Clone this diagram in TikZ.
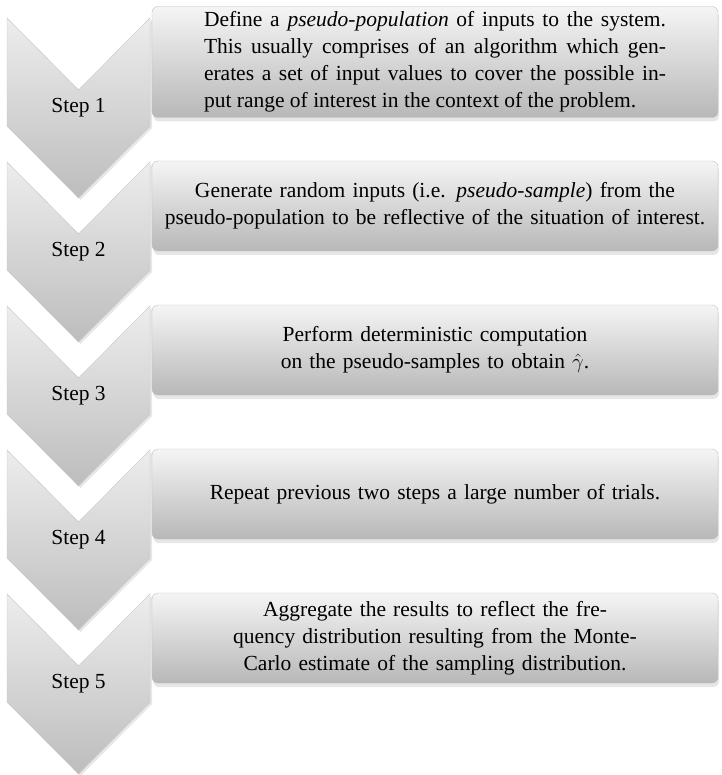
\documentclass[tikz,border=0pt]{standalone}
\usepackage{fontspec}
\setmainfont{Liberation Serif}
\usetikzlibrary{positioning,calc,shadows}
\pgfdeclarelayer{bg}
\pgfsetlayers{bg,main}

\tikzset{
  steplabel/.style={inner sep=0pt},
  stepbox/.style={draw=black!25, rounded corners=6pt, top color=black!4, bottom color=black!28,
    minimum width=566pt, minimum height=90pt, inner sep=2pt, text width=556pt, align=center,
    drop shadow={shadow xshift=1pt, shadow yshift=-4pt, opacity=0.2}},
  chevron/.style={draw=black!22, top color=black!7, bottom color=black!26,
    drop shadow={shadow xshift=2pt, shadow yshift=-2pt, opacity=0.2}}
}

\begin{document}
\begin{tikzpicture}[x=1pt, y=-1pt, node distance=144pt and 356.5pt, on grid,
    font=\fontsize{21.5}{27}\selectfont]

    \useasboundingbox (0,0) rectangle (721,775);

    \node[steplabel] at (78.5,108) (step1) {Step 1};
    \node[steplabel, below=of step1] (step2) {Step 2};
    \node[steplabel, below=of step2] (step3) {Step 3};
    \node[steplabel, below=of step3] (step4) {Step 4};
    \node[steplabel, below=of step4] (step5) {Step 5};

    \node[stepbox, right=of step1, yshift=46pt, minimum height=111pt, text width=462pt, align=justify] (box1)
      {Define a \textit{pseudo-population} of inputs to the system.\linebreak
       This usually comprises of an algorithm which gen-\linebreak
       erates a set of input values to cover the possible in-\linebreak
       put range of interest in the context of the problem.};
    \node[stepbox, right=of step2, yshift=46pt] (box2)
      {Generate random inputs (i.e. \textit{pseudo-sample}) from the\\
       pseudo-population to be reflective of the situation of interest.};
    \node[stepbox, right=of step3, yshift=46pt] (box3)
      {Perform deterministic computation\\
       on the pseudo-samples to obtain $\smash{\hat{\gamma}}$.};
    \node[stepbox, right=of step4, yshift=46pt] (box4)
      {Repeat previous two steps a large number of trials.};
    \node[stepbox, right=of step5, yshift=46pt] (box5)
      {Aggregate the results to reflect the fre-\\
       quency distribution resulting from the Monte-\\
       Carlo estimate of the sampling distribution.};

    \begin{pgfonlayer}{bg}
      \foreach \i in {1,...,5}
        \path[chevron] ($(step\i)+(-71.5,-90)$) -- ++(71.5,72) -- ++(71.5,-72)
          -- ++(0,108) -- ++(-71.5,72) -- ++(-71.5,-72) -- cycle;
    \end{pgfonlayer}

\end{tikzpicture}
\end{document}
